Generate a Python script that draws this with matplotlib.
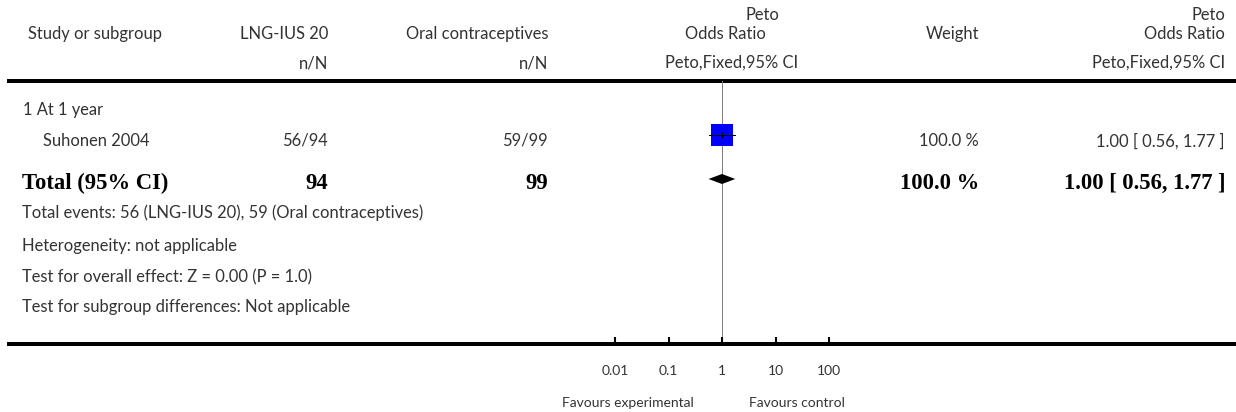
import matplotlib
matplotlib.use("Agg")
import matplotlib.pyplot as plt

# study data
studies = ["Suhonen 2004"]
events_lng = [56]
total_lng = [94]
events_oc = [59]
total_oc = [99]
odds_ratio = [1.00]
ci_low = [0.56]
ci_high = [1.77]
weight = [100.0]

# pooled result
pooled_or = 1.00
pooled_low = 0.56
pooled_high = 1.77
pooled_weight = 100.0

subgroup = "1 At 1 year"
footer = [
    "Total events: 56 (LNG-IUS 20), 59 (Oral contraceptives)",
    "Heterogeneity: not applicable",
    "Test for overall effect: Z = 0.00 (P = 1.0)",
    "Test for subgroup differences: Not applicable",
]

tick_vals = [0.01, 0.1, 1, 10, 100]
tick_labels = ["0.01", "0.1", "1", "10", "100"]

W, H = 1236, 412
sans = ["Lato", "DejaVu Sans"]
serif = ["Liberation Serif", "DejaVu Serif"]
txt_col = "#333333"
fs = 11.9
fs_small = 10
fs_bold = 16.3
px = 0.72  # points per pixel at 100 dpi

fig = plt.figure(figsize=(W / 100, H / 100), dpi=100)

# table part, in pixel units
tab = fig.add_axes([0, 0, 1, 1])
tab.set_xlim(0, W)
tab.set_ylim(H, 0)
tab.axis("off")

def t(x, y, s, ha="left", bold=False, size=None):
    if bold:
        tab.text(x, y, s, ha=ha, va="center", family=serif, weight="bold",
                 size=size or fs_bold, color="black")
    else:
        tab.text(x, y, s, ha=ha, va="center", family=sans,
                 size=size or fs, color=txt_col)

# column positions
c_lng, c_oc, c_w, c_or = 328, 548, 979, 1225

# header
t(779, 15, "Peto", ha="right")
t(c_or, 15, "Peto", ha="right")
t(28, 34, "Study or subgroup")
t(c_lng, 34, "LNG-IUS 20", ha="right")
t(c_oc, 34, "Oral contraceptives", ha="right")
t(766, 34, "Odds Ratio", ha="right")
t(c_w, 34, "Weight", ha="right")
t(c_or, 34, "Odds Ratio", ha="right")
t(c_lng, 63, "n/N", ha="right")
t(c_oc, 63, "n/N", ha="right")
t(798, 63, "Peto,Fixed,95% CI", ha="right")
t(c_or, 63, "Peto,Fixed,95% CI", ha="right")
tab.plot([7, W], [81, 81], color="black", lw=4 * px, solid_capstyle="butt")

# subgroup and study rows
t(23, 110, subgroup)
row_y = [141]
for i, name in enumerate(studies):
    y = row_y[i]
    t(43, y, name)
    t(c_lng, y, f"{events_lng[i]}/{total_lng[i]}", ha="right")
    t(c_oc, y, f"{events_oc[i]}/{total_oc[i]}", ha="right")
    t(c_w, y, f"{weight[i]:.1f} %", ha="right")
    t(c_or, y, f"{odds_ratio[i]:.2f} [ {ci_low[i]:.2f}, {ci_high[i]:.2f} ]", ha="right")

# total row
t(22, 183, "Total (95% CI)", bold=True)
t(c_lng, 183, f"{sum(total_lng)}", ha="right", bold=True)
t(c_oc, 183, f"{sum(total_oc)}", ha="right", bold=True)
t(c_w, 183, f"{pooled_weight:.1f} %", ha="right", bold=True)
t(c_or, 183, f"{pooled_or:.2f} [ {pooled_low:.2f}, {pooled_high:.2f} ]", ha="right", bold=True)

for s, y in zip(footer, [213, 246, 277, 307]):
    t(22, y, s)

# bottom rule
tab.plot([7, W], [344, 344], color="black", lw=4 * px, solid_capstyle="butt")

t(694, 403, "Favours experimental", ha="right", size=fs_small)
t(749, 403, "Favours control", size=fs_small)

# forest plot on a log scale
top, bot = 81, 344
left, right = 561.5, 882.5
ax = fig.add_axes([left / W, (H - bot) / H, (right - left) / W, (bot - top) / H])
ax.patch.set_visible(False)
ax.set_xscale("log")
ax.set_xlim(1e-3, 1e3)
ax.set_ylim(bot, top)
for sp in ax.spines.values():
    sp.set_visible(False)
ax.axvline(1, color="#808080", lw=1 * px, zorder=1)

sq_y = [135]
for i in range(len(studies)):
    ax.plot(odds_ratio[i], sq_y[i], marker="s", ms=22 * px, color="#0000ff",
            mew=0, zorder=2)
    ax.plot([ci_low[i], ci_high[i]], [sq_y[i], sq_y[i]], color="black",
            lw=1 * px, zorder=3)
    ax.plot(odds_ratio[i], sq_y[i], marker="|", ms=4, color="black",
            mew=0.8, zorder=3)

dy = 179
ax.fill([pooled_low, pooled_or, pooled_high, pooled_or],
        [dy, dy - 5, dy, dy + 5], color="black", lw=0, zorder=3)

ax.set_yticks([])
ax.set_xticks(tick_vals, tick_labels)
ax.minorticks_off()
ax.tick_params(axis="x", direction="in", length=7 * px, width=1.5,
               pad=15, labelsize=fs_small, labelcolor=txt_col, color="black")
for lab in ax.get_xticklabels():
    lab.set_family(sans)

fig.savefig("out.png", dpi=100)
